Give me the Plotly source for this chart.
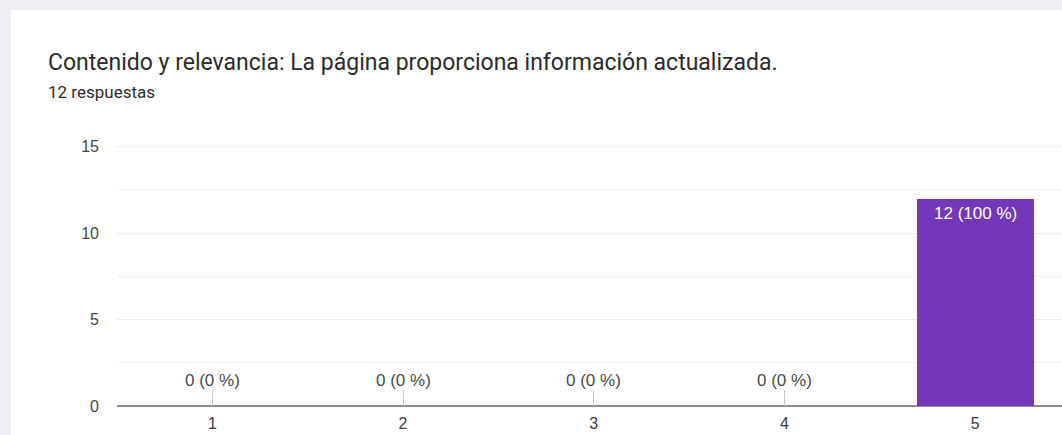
import plotly.graph_objects as go

# datos (Google Forms: escala 1-5)
categorias = ["1", "2", "3", "4", "5"]
respuestas = [0, 0, 0, 0, 12]
total = 12
titulo = "Contenido y relevancia: La página proporciona información actualizada."
subtitulo = f"{total} respuestas"
y_ticks = [0, 5, 10, 15]

W, H = 1062, 435
# área del gráfico en píxeles (el tope queda un poco sobre la línea de 15
# porque plotly no dibuja la rejilla justo en el borde)
L, T, B = 117, 145, 406
Y_MAX = 15.1
BAND = 190.7  # ancho de cada categoría en px

AXIS_FONT = "Arial, Liberation Sans, sans-serif"
TITLE_FONT = "Roboto, Noto Sans, sans-serif"
PURPLE = "#7337b9"


def px_x(px):
    return (px - L) / (W - L)


def px_y(py):
    return (B - py) / (B - T)


xs = list(range(1, len(categorias) + 1))
fig = go.Figure()
fig.add_trace(go.Bar(
    x=xs, y=respuestas, width=0.615,
    marker=dict(color=PURPLE, line=dict(width=0)),
    hoverinfo="skip", showlegend=False,
))

# etiquetas "n (p %)"
anns = []
for x, c in zip(xs, respuestas):
    txt = f"{c} ({round(100 * c / total)} %)"
    if c > 0:
        anns.append(dict(x=x, y=c, text=txt, showarrow=False, yanchor="top", yshift=-3,
                         font=dict(family=AXIS_FONT, size=17, color="white")))
    else:
        anns.append(dict(x=x, y=c, text=txt, showarrow=False, yanchor="bottom", yshift=14,
                         font=dict(family=AXIS_FONT, size=17, color="#4a4a4a")))

anns.append(dict(xref="paper", yref="paper", x=px_x(46), y=px_y(62), xanchor="left",
                 yanchor="middle", text=titulo, showarrow=False,
                 font=dict(family=TITLE_FONT, size=23, color="#2b2b2b")))
anns.append(dict(xref="paper", yref="paper", x=px_x(46), y=px_y(92), xanchor="left",
                 yanchor="middle", text=subtitulo, showarrow=False,
                 font=dict(family=TITLE_FONT, size=17, color="#2b2b2b")))

fig.update_layout(
    width=W, height=H,
    margin=dict(l=L, r=0, t=T, b=H - B, pad=0),
    paper_bgcolor="#eef0f4", plot_bgcolor="rgba(0,0,0,0)",
    annotations=anns, bargap=0,
    shapes=[dict(type="rect", xref="paper", yref="paper", layer="below",
                 x0=px_x(11), x1=px_x(W + 5), y0=px_y(H + 5), y1=px_y(10),
                 fillcolor="white", line=dict(width=0))],
)
fig.update_xaxes(
    range=[0.5, 0.5 + (W - L) / BAND], tickvals=xs, ticktext=categorias,
    showgrid=False, zeroline=False, showline=False,
    ticks="inside", ticklen=16, tickwidth=1, tickcolor="#c8c8c8",
    ticklabelstandoff=6, layer="below traces",
    tickfont=dict(family=AXIS_FONT, size=16, color="#3a3a3a"),
)
fig.update_yaxes(
    range=[0, Y_MAX], tickvals=y_ticks, showgrid=True, gridcolor="#ececec", gridwidth=1,
    minor=dict(dtick=2.5, tick0=0, showgrid=True, gridcolor="#f1f1f1", gridwidth=1),
    zeroline=True, zerolinecolor="#8c8c8c", zerolinewidth=2, showline=False,
    ticklabelstandoff=17, layer="below traces",
    tickfont=dict(family=AXIS_FONT, size=16, color="#444444"),
)

# sin margen del body para que la figura ocupe toda la ventana
fig.write_html("out.html", config={"displayModeBar": False},
               post_script="document.body.style.margin='0';")
